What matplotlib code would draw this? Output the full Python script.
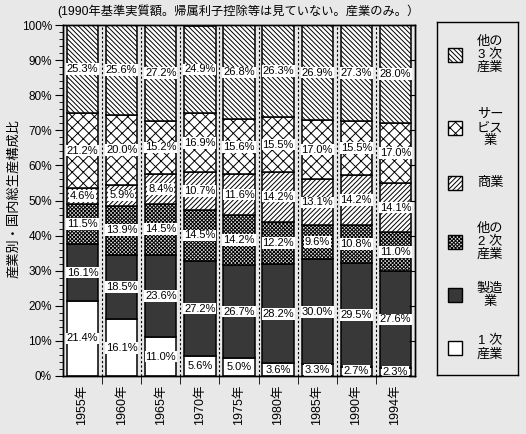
import matplotlib
matplotlib.use("Agg")
import matplotlib.pyplot as plt
from matplotlib.patches import Rectangle
from matplotlib.ticker import MultipleLocator, FixedLocator, PercentFormatter
import numpy as np

plt.rcParams["font.family"] = ["Liberation Sans", "Noto Sans CJK JP", "DejaVu Sans"]
plt.rcParams["hatch.linewidth"] = 0.7

# -------------------------
# Data (bottom to top of each stack)
# -------------------------
years = ["1955年", "1960年", "1965年", "1970年", "1975年", "1980年", "1985年", "1990年", "1994年"]
primary = [21.4, 16.1, 11.0, 5.6, 5.0, 3.6, 3.3, 2.7, 2.3]
manufacturing = [16.1, 18.5, 23.6, 27.2, 26.7, 28.2, 30.0, 29.5, 27.6]
other_secondary = [11.5, 13.9, 14.5, 14.5, 14.2, 12.2, 9.6, 10.8, 11.0]
commerce = [4.6, 5.9, 8.4, 10.7, 11.6, 14.2, 13.1, 14.2, 14.1]
services = [21.2, 20.0, 15.2, 16.9, 15.6, 15.5, 17.0, 15.5, 17.0]
other_tertiary = [25.3, 25.6, 27.2, 24.9, 26.8, 26.3, 26.9, 27.3, 28.0]

series = [primary, manufacturing, other_secondary, commerce, services, other_tertiary]
legend_labels = ["1 次\n産業", "製造\n業", "他の\n2 次\n産業", "商業", "サー\nビス\n業", "他の\n3 次\n産業"]
title_text = "(1990年基準実質額。帰属利子控除等は見ていない。産業のみ。）"
ylabel_text = "産業別・国内総生産構成比"

# style per series
styles = [
    dict(facecolor="white", hatch=None),
    dict(facecolor="#383838", hatch=None),
    dict(facecolor="#e0e0e0", hatch="x" * 9),
    dict(facecolor="white", hatch="/" * 7),
    dict(facecolor="white", hatch="xxx"),
    dict(facecolor="white", hatch="\\" * 7),
]

bg = "#e8e8e8"
fig = plt.figure(figsize=(5.26, 4.34), dpi=100, facecolor=bg)
ax = fig.add_axes([63 / 526, 1 - 376 / 434, 352 / 526, 351 / 434], facecolor=bg)

x = np.arange(len(years))
bottom = np.zeros(len(years))
for vals, st in zip(series, styles):
    vals = np.array(vals)
    ax.bar(x, vals, width=0.8, bottom=bottom, color=st["facecolor"],
           hatch=st["hatch"], edgecolor="black", linewidth=1.1, zorder=2)
    for xi, b, v in zip(x, bottom, vals):
        ax.text(xi, b + v / 2, f"{v:.1f}%", ha="center", va="center", fontsize=8,
                zorder=4, bbox=dict(facecolor="white", edgecolor="none", pad=0.6))
    bottom += vals

# dashed separators between bars
for b in np.arange(0.5, len(years) - 1, 1.0):
    ax.axvline(b, color="black", linestyle=(0, (2, 2)), linewidth=0.8, zorder=1)

ax.set_xlim(-0.5, len(years) - 0.5)
ax.set_ylim(0, 100)
ax.yaxis.set_major_locator(MultipleLocator(10))
ax.yaxis.set_minor_locator(MultipleLocator(2))
ax.yaxis.set_major_formatter(PercentFormatter(decimals=0))
ax.tick_params(axis="y", which="major", length=6, labelsize=8.5, direction="out", pad=2)
ax.tick_params(axis="y", which="minor", length=3, direction="out")

ax.set_xticks(x)
ax.set_xticklabels(years, rotation=90, fontsize=9)
ax.xaxis.set_minor_locator(FixedLocator(np.arange(0.5, len(years) - 0.5, 1.0)))
ax.tick_params(axis="x", which="major", length=0, pad=6)
ax.tick_params(axis="x", which="minor", length=6, direction="out")

# inward ticks on the right spine
ax_r = ax.twinx()
ax_r.set_ylim(0, 100)
ax_r.yaxis.set_major_locator(MultipleLocator(10))
ax_r.tick_params(axis="y", which="major", direction="in", length=4, labelright=False)

for a in (ax, ax_r):
    for s in a.spines.values():
        s.set_linewidth(1.0)

fig.text(14 / 526, 1 - 198 / 434, ylabel_text, rotation=90,
         ha="center", va="center", fontsize=9.5)
fig.text(238 / 526, 1 - 11 / 434, title_text, ha="center", va="center", fontsize=8.8)

# legend drawn in its own framed axes
lax = fig.add_axes([437 / 526, 1 - 375 / 434, 81 / 526, 353 / 434], facecolor=bg)
lax.set_xlim(0, 81)
lax.set_ylim(353, 0)
lax.set_xticks([])
lax.set_yticks([])
for s in lax.spines.values():
    s.set_linewidth(1.0)
legend_y = [326, 273, 220, 161, 106, 33]
for lbl, st, ly in zip(legend_labels, styles, legend_y):
    lax.add_patch(Rectangle((11, ly - 7), 14, 14, facecolor=st["facecolor"],
                            hatch=st["hatch"], edgecolor="black", linewidth=1.0))
    lax.text(53, ly, lbl, ha="center", va="center", fontsize=9.5,
             multialignment="center", linespacing=1.1)

fig.savefig("out.png", dpi=100, facecolor=bg)
